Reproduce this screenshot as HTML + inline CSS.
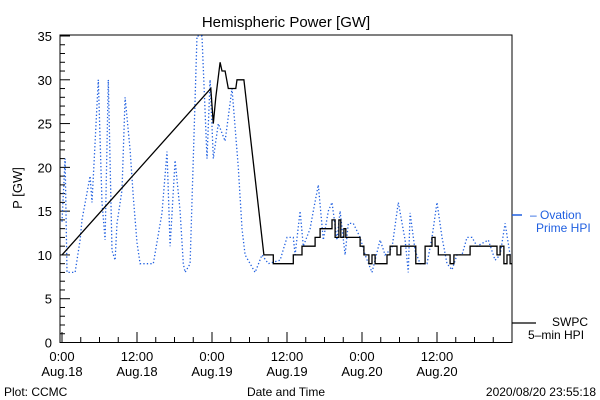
<!DOCTYPE html>
<html><head><meta charset="utf-8"><style>
body{margin:0;background:#fff;}
svg{display:block;font-family:"Liberation Sans",sans-serif;}
</style></head><body>
<svg id="c" width="600" height="400">
<text x="286" y="27" text-anchor="middle" font-size="15">Hemispheric Power [GW]</text>
<g id="axes"></g>
<g id="series"></g>
<text x="22" y="188" font-size="13" text-anchor="middle" transform="rotate(-90 22 188)">P [GW]</text>
<text x="286" y="396" font-size="12" text-anchor="middle">Date and Time</text>
<text x="4" y="396" font-size="12">Plot: CCMC</text>
<text x="596" y="396" font-size="12" text-anchor="end">2020/08/20 23:55:18</text>
<g>
<line x1="512" y1="215" x2="522" y2="215" stroke="#1f5fe0" stroke-width="1.5"/>
<text x="530" y="219" font-size="12" fill="#1f5fe0">– Ovation</text>
<text x="536" y="232" font-size="12" fill="#1f5fe0">Prime HPI</text>
</g>
<g>
<line x1="512" y1="323" x2="536" y2="323" stroke="#000" stroke-width="1.2"/>
<text x="552" y="326" font-size="12">SWPC</text>
<text x="528" y="339" font-size="12">5–min HPI</text>
</g>
</svg>
<script>
const yTicks=[0,5,10,15,20,25,30,35];
const xTickHours=[0,12,24,36,48,60];
const xTickTime=["0:00","12:00","0:00","12:00","0:00","12:00"];
const xTickDate=["Aug.18","Aug.18","Aug.19","Aug.19","Aug.20","Aug.20"];
const ovH=[0,0.5,0.8,2.1,2.9,3.2,4.5,4.8,5.8,6.4,6.9,7.4,8,8.5,8.8,9.6,10.1,10.9,11.4,12,12.5,14.6,16,16.8,17.3,18.1,18.9,19.4,19.7,20.5,21.6,22.4,23.2,23.7,24.2,25,26.1,27.2,28.2,28.8,29.3,30.9,32,33,34.9,36,37,37.3,38.1,38.6,39.7,40.2,41,41.8,42.6,43.2,44,44.5,45.3,45.8,46.6,47.7,48.5,49.6,50.9,51.7,52.8,53.8,54.9,55.4,55.7,56.5,57.3,58.4,59.2,60,60.8,61.6,62.4,63.2,64,64.8,65.6,66.4,68.2,69.3,70.1,70.9,71.7];
const ovV=[13.8,21,8,8,11.7,14,19,16,30,16,11.7,30,10.5,9.4,13.6,17.4,28,22,16.6,11.4,9,9,14.8,21.8,11,20.8,15,9,8,9,35,35,21,30,21,25,23,29,20,13,10,8,10,9,9.4,12,12,10,15,11,13,15,18,11.7,15,16,11.7,15,10,13.6,13.6,12,10,8,11.7,10,10.8,16,11.7,8,14.8,10.5,9,9,12,16,12,9,8.3,10,10,12,12,11,11.7,9.4,10,13.6,10];
const swH=[0,23.8,24.2,24.6,25.3,25.6,26.1,26.6,27.8,28,29.1,32.3,33.6];
const swV=[10,29,25,28,32,31,31,29,29,30,30,10,10];
const stH=[33.8,37.0,38.4,40.5,41.3,43.2,43.7,44.3,44.6,45.1,45.4,47.7,48.3,49.1,49.6,50.1,52.0,52.5,53.6,54.2,56.6,58.1,59.2,59.7,60.2,62.1,62.7,65.3,69.6,70.1,70.7,71.2,71.7,72];
const stV=[9,10,11,12,13,14,12,14,12,13,12,11,10,9,10,9,10,11,10,11,9,11,12,11,10,9,10,11,10,11,9,10,9,9];
const X0=62,X1=512,Y0=342.5,Y1=36;
const xs=h=>X0+h*(X1-X0)/72;
const ys=v=>Y0-v*(Y0-Y1)/35;
const NS="http://www.w3.org/2000/svg";
function mk(tag,attrs,parent){const e=document.createElementNS(NS,tag);for(const k in attrs)e.setAttribute(k,attrs[k]);parent.appendChild(e);return e;}
const ax=document.getElementById('axes'),se=document.getElementById('series');
const frame=mk('rect',{x:60,y:35,width:452,height:307.5,fill:'none',stroke:'#000','stroke-width':1},ax);


for(let v=0;v<=35;v++){const len=v%5===0?10:5;const t=mk('line',{x1:60,x2:60+len,y1:ys(v),y2:ys(v),stroke:'#000'},ax);

}
yTicks.forEach(v=>{const t=mk('text',{x:52,y:ys(v)+5,'text-anchor':'end','font-size':13},ax);t.textContent=v;

});
for(let h=0;h<72;h+=3){const len=h%12===0?10:5;const t=mk('line',{x1:xs(h),x2:xs(h),y1:342,y2:342-len,stroke:'#000'},ax);

}
xTickHours.forEach((h,i)=>{const a=mk('text',{x:xs(h),y:361,'text-anchor':'middle','font-size':13},ax);a.textContent=xTickTime[i];


const b=mk('text',{x:xs(h),y:376,'text-anchor':'middle','font-size':13},ax);b.textContent=xTickDate[i];

});
const ovPts=ovH.map((h,i)=>xs(h).toFixed(1)+','+ys(ovV[i]).toFixed(1)).join(' ');
const ov=mk('polyline',{points:ovPts,fill:'none',stroke:'#1f5fe0','stroke-width':1.3,'stroke-dasharray':'1.3,2.2'},se);


let pts=swH.map((h,i)=>[xs(h),ys(swV[i])]);
for(let i=0;i<stH.length;i++){pts.push([xs(stH[i]),ys(i>0?stV[i-1]:swV[swV.length-1])]);pts.push([xs(stH[i]),ys(stV[i])]);}
const sw=mk('polyline',{points:pts.map(p=>p[0].toFixed(1)+','+p[1].toFixed(1)).join(' '),fill:'none',stroke:'#000','stroke-width':1.3},se);


</script>
</body></html>
